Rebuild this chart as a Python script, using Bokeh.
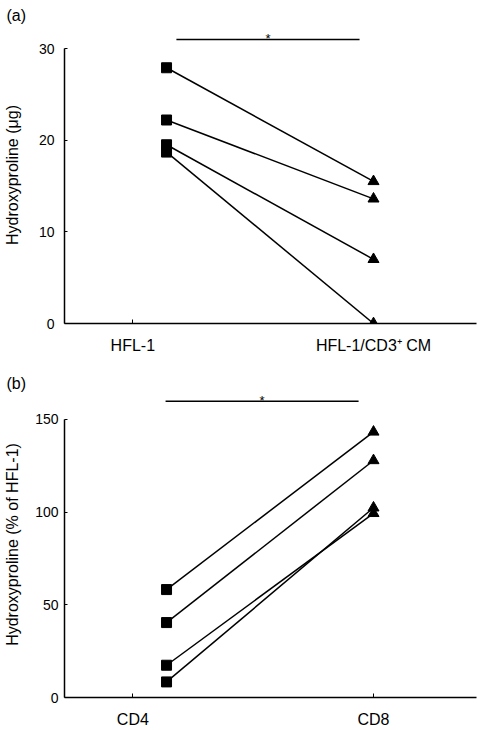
from bokeh.plotting import figure
from bokeh.layouts import column
from bokeh.models import FixedTicker, Range1d
from bokeh.core.properties import value
from bokeh.embed import file_html
from bokeh.resources import INLINE

# ---------------- data ----------------
cats_a = ["HFL-1", "HFL-1/CD3\u207a CM"]
hfl1 = [27.9, 22.2, 19.5, 18.7]
hfl1_cd3_cm = [15.5, 13.6, 7.0, 0.0]
yticks_a = [0, 10, 20, 30]

cats_b = ["CD4", "CD8"]
cd4 = [58.2, 40.4, 17.4, 8.4]
cd8 = [143.2, 127.8, 99.3, 102.3]
yticks_b = [0, 50, 100, 150]

sig_a = {"x": [1.181, 1.942], "y": 30.98, "label": "*"}
sig_b = {"x": [1.136, 1.938], "y": 159.8, "label": "*"}

FONT = "Liberation Sans"
SQ_X = 1.14    # square markers sit just right of the first category
TR_X = 2.0


def panel(tag, cats, left_vals, right_vals, yticks, ylabel, sig, height,
          y_top, border_top, border_bottom, x_standoff, y_standoff,
          ylab_standoff, title_standoff):
    p = figure(width=477, height=height, output_backend="svg",
               toolbar_location=None, min_border_left=60, min_border_right=1,
               min_border_top=border_top, min_border_bottom=border_bottom,
               x_range=Range1d(0.716, 2.428), y_range=Range1d(0, y_top),
               title=tag)
    p.outline_line_color = None
    p.xgrid.visible = False
    p.ygrid.visible = False
    p.background_fill_color = "white"
    p.border_fill_color = "white"

    p.title.align = "left"
    p.title.offset = -58
    p.title.standoff = title_standoff
    p.title.text_font = FONT
    p.title.text_font_size = "16px"
    p.title.text_font_style = "normal"
    p.title.text_color = "black"

    # connecting lines and markers
    for a, b in zip(left_vals, right_vals):
        p.line([SQ_X, TR_X], [a, b], line_color="black", line_width=1.5)
    p.scatter([SQ_X] * len(left_vals), left_vals, marker="square", size=10,
              fill_color="black", line_color="black")
    p.scatter([TR_X] * len(right_vals), right_vals, marker="triangle", size=11,
              fill_color="black", line_color="black")

    # significance bar
    p.line(sig["x"], [sig["y"], sig["y"]], line_color="black", line_width=1.5)
    p.text(x=[sum(sig["x"]) / 2], y=[sig["y"]], text=[sig["label"]],
           text_font=value(FONT), text_font_size="13px", text_align="center",
           text_baseline="alphabetic", y_offset=-1, text_color="black")

    # axes
    xa = p.xaxis[0]
    xa.ticker = FixedTicker(ticks=[1, 2])
    xa.major_label_overrides = {1: cats[0], 2: cats[1]}
    xa.major_tick_in = 4
    xa.major_tick_out = 0
    xa.minor_tick_line_color = None
    xa.axis_line_width = 1.5
    xa.major_label_text_font = FONT
    xa.major_label_text_font_size = "16px"
    xa.major_label_text_color = "black"
    xa.major_label_standoff = x_standoff

    ya = p.yaxis[0]
    ya.ticker = FixedTicker(ticks=yticks)
    ya.bounds = (yticks[0], yticks[-1])
    ya.major_tick_in = 3
    ya.major_tick_out = 0
    ya.minor_tick_line_color = None
    ya.axis_line_width = 1.5
    ya.major_label_text_font = FONT
    ya.major_label_text_font_size = "14px"
    ya.major_label_text_color = "black"
    ya.major_label_standoff = y_standoff
    ya.axis_label = ylabel
    ya.axis_label_text_font = FONT
    ya.axis_label_text_font_size = "16px"
    ya.axis_label_text_font_style = "normal"
    ya.axis_label_text_color = "black"
    ya.axis_label_standoff = ylab_standoff
    return p


fa = panel("(a)", cats_a, hfl1, hfl1_cd3_cm, yticks_a, "Hydroxyproline (\u03bcg)",
           sig_a, 356, 32.4, 26, 33, 13, 10, 15, 6)
fb = panel("(b)", cats_b, cd4, cd8, yticks_b, "Hydroxyproline (% of HFL-1)",
           sig_b, 374, 165.0, 35, 31, 13, 6, 11, 0)

layout = column(fa, fb)
open("out.html", "w").write(file_html(layout, INLINE))
